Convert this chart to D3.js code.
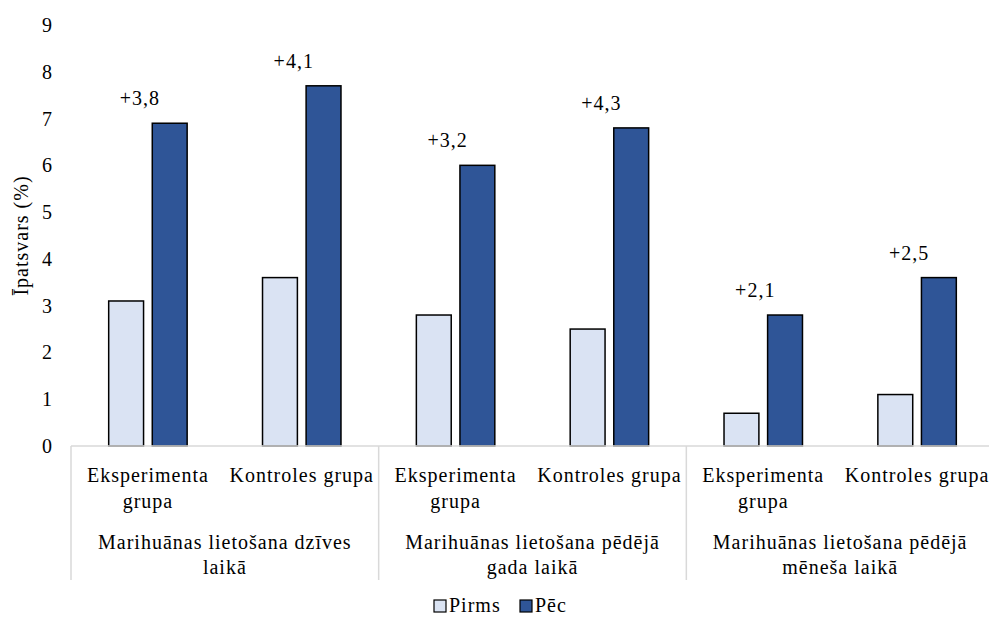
<!DOCTYPE html>
<html>
<head>
<meta charset="utf-8">
<script src="https://cdn.jsdelivr.net/npm/d3@7"></script>
<style>
  body { margin: 0; background: #fff; }
</style>
</head>
<body>
<div class="chart"></div>
<script>
// data
var groups = ["Marihuānas lietošana dzīves laikā",
              "Marihuānas lietošana pēdējā gada laikā",
              "Marihuānas lietošana pēdējā mēneša laikā"];
var subgroups = ["Eksperimenta grupa", "Kontroles grupa"];
var seriesNames = ["Pirms", "Pēc"];
var pirms = [3.1, 3.6, 2.8, 2.5, 0.7, 1.1];
var pec   = [6.9, 7.7, 6.0, 6.8, 2.8, 3.6];
var yTicks = [0, 1, 2, 3, 4, 5, 6, 7, 8, 9];

var colors = ["#dae3f3", "#2f5597"];
var FONT = "Liberation Serif, Times New Roman, serif";

var W = 989, H = 617;
var margin = {top: 25, right: -5, bottom: 171, left: 71};
var plotW = W - margin.left - margin.right,
    plotH = H - margin.top - margin.bottom;

var svg = d3.select(".chart")
  .append("svg")
    .attr("width", W)
    .attr("height", H);

var g = svg.append("g")
    .attr("transform", "translate(" + margin.left + "," + margin.top + ")");

// helper: every text gets its font set on itself
function label(sel, size) {
  return sel.append("text")
    .attr("font-family", FONT)
    .attr("font-size", size)
    .attr("letter-spacing", 1)
    .attr("fill", "#000");
}

// one row per category (group x subgroup)
var rows = [];
groups.forEach(function(gr, gi) {
  subgroups.forEach(function(sg, si) {
    var i = gi * subgroups.length + si;
    rows.push({key: i, group: gr, sub: sg, values: [pirms[i], pec[i]]});
  });
});

var x0 = d3.scaleBand()
    .domain(rows.map(function(d) { return d.key; }))
    .range([0, plotW]);

var x1 = d3.scaleBand()
    .domain(seriesNames)
    .range([x0.bandwidth() * 0.245, x0.bandwidth() * 0.755])
    .paddingInner(0.2);

var xg = d3.scaleBand()
    .domain(groups)
    .range([0, plotW]);

var y = d3.scaleLinear()
    .domain([0, 9])
    .range([plotH, 0]);

// y axis labels (no line)
yTicks.forEach(function(t) {
  label(g, 20)
    .attr("x", -18)
    .attr("y", y(t))
    .attr("dy", "0.35em")
    .attr("text-anchor", "end")
    .text(t);
});

// axis title
label(svg, 20)
    .attr("transform", "translate(28," + (margin.top + plotH / 2) + ") rotate(-90)")
    .attr("text-anchor", "middle")
    .text("Īpatsvars (%)");

// bars
var cat = g.selectAll(".cat")
  .data(rows)
  .enter().append("g")
    .attr("class", "cat")
    .attr("transform", function(d) { return "translate(" + x0(d.key) + ",0)"; });

cat.selectAll("rect")
  .data(function(d) { return d.values.map(function(v, i) { return {name: seriesNames[i], v: v, i: i}; }); })
  .enter().append("rect")
    .attr("x", function(d) { return x1(d.name); })
    .attr("y", function(d) { return y(d.v); })
    .attr("width", x1.bandwidth())
    .attr("height", function(d) { return plotH - y(d.v); })
    .attr("fill", function(d) { return colors[d.i]; })
    .attr("stroke", "#000")
    .attr("stroke-width", 1.5);

// difference labels
cat.each(function(d) {
  label(d3.select(this), 20)
    .attr("x", x0.bandwidth() / 2 - 8)
    .attr("y", y(d.values[1]) - 25)
    .attr("dy", "0.35em")
    .attr("text-anchor", "middle")
    .text("+" + d3.format(".1f")(d.values[1] - d.values[0]).replace(".", ","));
});

// baseline and group separators
g.append("line")
    .attr("x1", 0).attr("x2", plotW)
    .attr("y1", plotH).attr("y2", plotH)
    .attr("stroke", "#d9d9d9").attr("stroke-width", 1.5);

g.selectAll(".sep")
  .data(groups.concat(["end"]))
  .enter().append("line")
    .attr("class", "sep")
    .attr("x1", function(d, i) { return i * xg.bandwidth(); })
    .attr("x2", function(d, i) { return i * xg.bandwidth(); })
    .attr("y1", plotH)
    .attr("y2", plotH + 134)
    .attr("stroke", "#d9d9d9").attr("stroke-width", 1.5);

// wrap a label into lines using the svg's own text measure
var probe = label(svg, 20).attr("x", -999).attr("y", -999);
function wrapLines(text, maxW) {
  var words = text.split(" "), lines = [], cur = "";
  words.forEach(function(w) {
    var t = cur ? cur + " " + w : w;
    probe.text(t);
    if (probe.node().getComputedTextLength() > maxW && cur) { lines.push(cur); cur = w; }
    else cur = t;
  });
  lines.push(cur);
  return lines;
}

cat.each(function(d) {
  var sel = d3.select(this);
  wrapLines(d.sub, x0.bandwidth() - 4).forEach(function(l, i) {
    label(sel, 20)
      .attr("x", x0.bandwidth() / 2)
      .attr("y", plotH + 36 + i * 26)
      .attr("text-anchor", "middle")
      .text(l);
  });
});

groups.forEach(function(d) {
  wrapLines(d, 275).forEach(function(l, i) {
    label(g, 20)
      .attr("x", xg(d) + xg.bandwidth() / 2)
      .attr("y", plotH + 103 + i * 25)
      .attr("text-anchor", "middle")
      .text(l);
  });
});
probe.remove();

// legend
var legend = svg.append("g")
    .attr("transform", "translate(434,600)");

seriesNames.forEach(function(s, i) {
  var it = legend.append("g")
      .attr("transform", "translate(" + (i * 86) + ",0)");
  it.append("rect")
      .attr("width", 12).attr("height", 12)
      .attr("fill", colors[i])
      .attr("stroke", "#000").attr("stroke-width", 1.2);
  label(it, 20)
      .attr("x", 15)
      .attr("y", 12)
      .text(s);
});
</script>
</body>
</html>
